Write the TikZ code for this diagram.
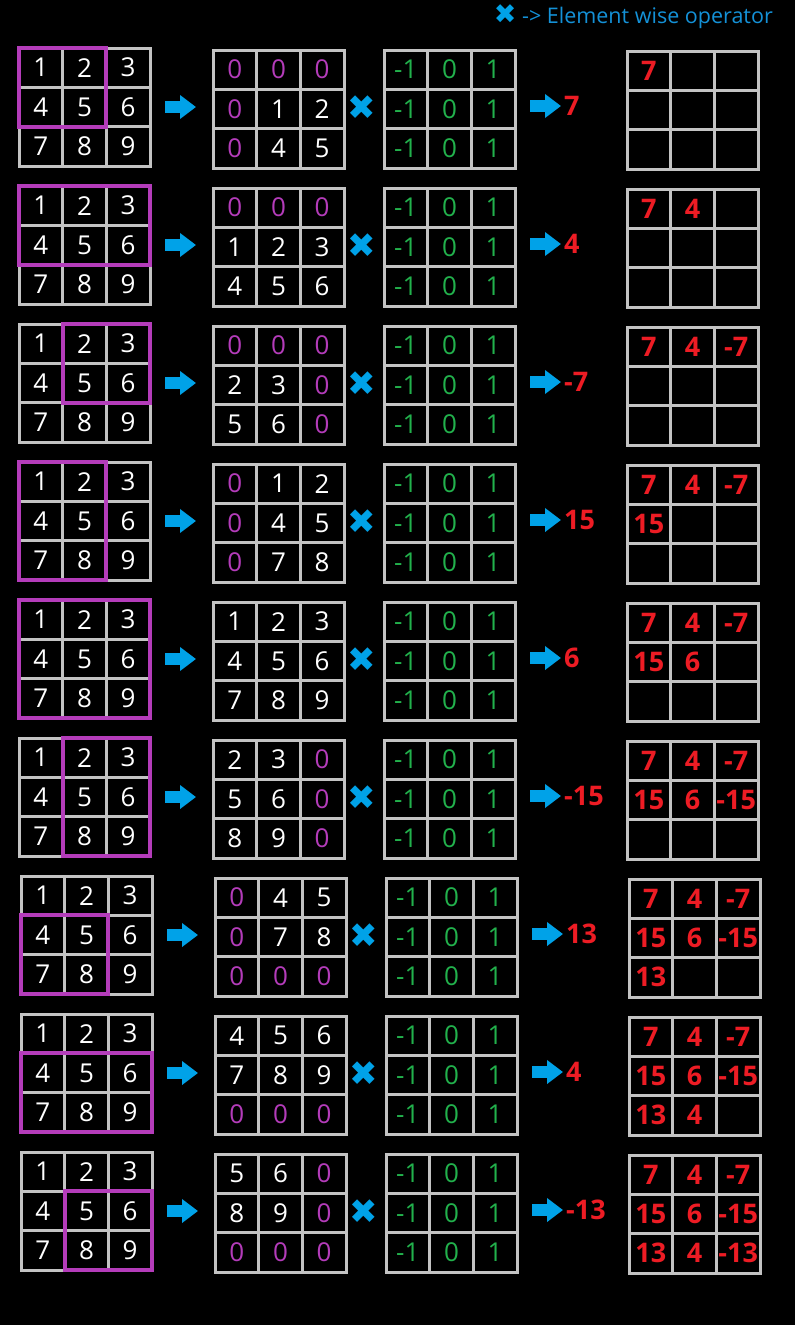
\documentclass[tikz,border=0pt]{standalone}
\usepackage{fontspec}
\setmainfont{Open Sans}
\newfontfamily\symfont{DejaVu Sans}
\usetikzlibrary{arrows.meta}
\definecolor{gridgray}{RGB}{195,195,195}
\definecolor{mypurple}{RGB}{180,60,186}
\definecolor{mygreen}{RGB}{34,177,76}
\definecolor{myred}{RGB}{237,28,36}
\definecolor{myblue}{RGB}{0,162,232}
\definecolor{legendblue}{RGB}{20,145,215}

% 3x3 grid, top left corner at (#1,#2)
\newcommand{\cellgrid}[2]{%
  \draw[gridline] (#1,#2) rectangle ++(131,118);
  \foreach \t in {1,2} {
    \draw[gridline] ({#1+\t*43.67},#2) -- ++(0,118);
    \draw[gridline] (#1,{#2+\t*39.33}) -- ++(131,0);
  }
}

\begin{document}
\begin{tikzpicture}[x=1pt, y=-1pt,
    gridline/.style={gridgray, line width=3pt},
    hilite/.style={mypurple, line width=4pt},
    digit/.style={text=white, inner sep=0pt, font=\fontsize{26}{26}\selectfont},
    kdigit/.style={digit, text=mygreen},
    resdigit/.style={digit, text=myred, font=\fontsize{27}{27}\selectfont\bfseries},
    resval/.style={resdigit, anchor=west},
    bluearrow/.style={myblue, line width=12pt, -{Triangle[width=23pt,length=16pt]}},
    crossop/.style={text=myblue, inner sep=0pt, font=\symfont\fontsize{34}{34}\selectfont}]

  \fill[black] (0,0) rectangle (795,1325);
  \useasboundingbox (0,0) rectangle (795,1325);

  \node[text=legendblue, anchor=east, inner sep=0pt, font=\fontsize{21.5}{21.5}\selectfont] (legend) at (773,17)
    {{\symfont\fontsize{27}{27}\selectfont\textcolor{myblue}{✖}} -{}> Element wise operator};

  \foreach \i/\hc/\hr/\hcw/\hrh/\res/\pad in {
      0/0/0/2/2/7/{0,0,0,0,1,2,0,4,5},
      1/0/0/3/2/4/{0,0,0,1,2,3,4,5,6},
      2/1/0/2/2/-7/{0,0,0,2,3,0,5,6,0},
      3/0/0/2/3/15/{0,1,2,0,4,5,0,7,8},
      4/0/0/3/3/6/{1,2,3,4,5,6,7,8,9},
      5/1/0/2/3/-15/{2,3,0,5,6,0,8,9,0},
      6/0/1/2/2/13/{0,4,5,0,7,8,0,0,0},
      7/0/1/3/2/4/{4,5,6,7,8,9,0,0,0},
      8/1/1/2/2/-13/{5,6,0,8,9,0,0,0,0}} {
    \pgfmathsetmacro\y{48+138*\i}
    \pgfmathsetmacro\dx{\i>5 ? 2 : 0}

    % input, padded window, kernel, output
    \cellgrid{19+\dx}{\y}
    \cellgrid{213+\dx}{\y+2}
    \cellgrid{384+\dx}{\y+2}
    \cellgrid{627+\dx}{\y+3}

    \foreach \v [count=\k from 0] in {1,...,9} {
      \pgfmathtruncatemacro\r{\k/3}
      \pgfmathtruncatemacro\c{mod(\k,3)}
      \node[digit] (in-\i-\k) at ({19+\dx+(\c+0.5)*43.67},{\y+(\r+0.5)*39.33}) {\v};
    }
    \draw[hilite] ({19+\dx+\hc*43.67},{\y+\hr*39.33}) rectangle ++({\hcw*43.67},{\hrh*39.33});

    \foreach \v [count=\k from 0] in \pad {
      \pgfmathtruncatemacro\r{\k/3}
      \pgfmathtruncatemacro\c{mod(\k,3)}
      \ifnum\v=0 \def\col{mypurple}\else\def\col{white}\fi
      \node[digit, text=\col] (pad-\i-\k) at ({213+\dx+(\c+0.5)*43.67},{\y+2+(\r+0.5)*39.33}) {\v};
    }

    \foreach \v [count=\k from 0] in {-1,0,1,-1,0,1,-1,0,1} {
      \pgfmathtruncatemacro\r{\k/3}
      \pgfmathtruncatemacro\c{mod(\k,3)}
      \node[kdigit] (ker-\i-\k) at ({384+\dx+(\c+0.5)*43.67},{\y+2+(\r+0.5)*39.33}) {\v};
    }

    \foreach \v [count=\k from 0] in {7,4,-7,15,6,-15,13,4,-13} {
      \ifnum\k>\i\else
        \pgfmathtruncatemacro\r{\k/3}
        \pgfmathtruncatemacro\c{mod(\k,3)}
        \node[resdigit] (res-\i-\k) at ({627+\dx+(\c+0.5)*43.67},{\y+3+(\r+0.5)*39.33}) {\v};
      \fi
    }

    \coordinate (a-\i) at ({165+\dx},{\y+59});
    \coordinate (b-\i) at ({196+\dx},{\y+59});
    \draw[bluearrow] (a-\i) -- (b-\i);
    \node[crossop] (x-\i) at ({362+\dx},{\y+60}) {✖};
    \coordinate (c-\i) at ({530+\dx},{\y+58});
    \coordinate (d-\i) at ({561+\dx},{\y+58});
    \draw[bluearrow] (c-\i) -- (d-\i);
    \node[resval] (val-\i) at ({564+\dx},{\y+58}) {\res};
  }
\end{tikzpicture}
\end{document}
